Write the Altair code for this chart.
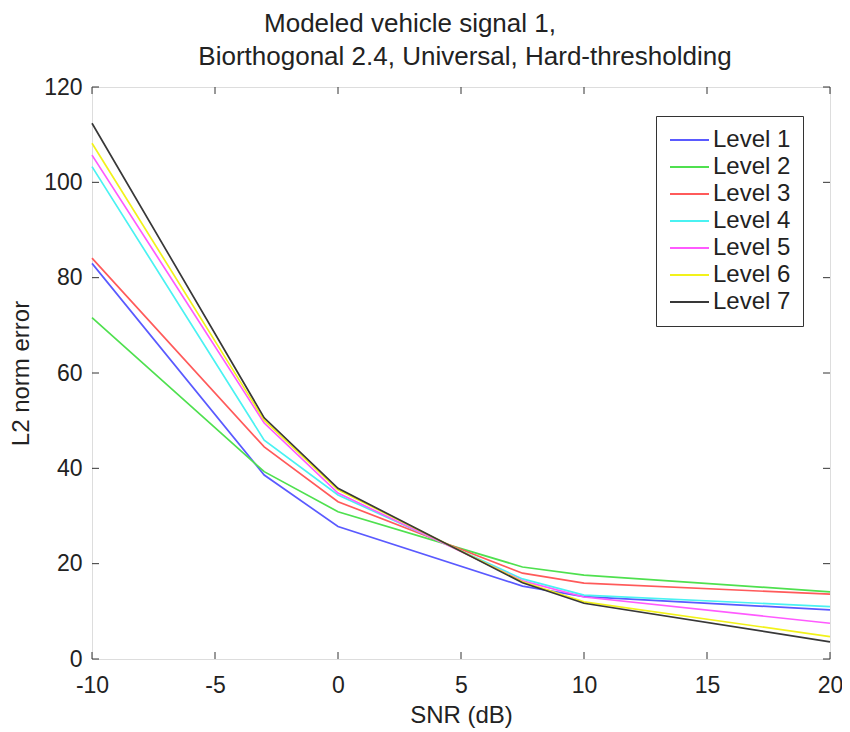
import altair as alt
import pandas as pd

snr = [-10, -3, 0, 7.5, 10, 20]
levels = ["Level 1", "Level 2", "Level 3", "Level 4", "Level 5", "Level 6", "Level 7"]
level1 = [83.0, 38.6, 27.8, 15.3, 13.1, 10.3]
level2 = [71.6, 39.3, 30.9, 19.3, 17.6, 14.1]
level3 = [84.1, 44.5, 33.0, 18.0, 15.9, 13.6]
level4 = [103.3, 45.9, 34.4, 16.8, 13.4, 11.0]
level5 = [105.7, 49.5, 34.8, 16.4, 13.0, 7.5]
level6 = [108.2, 50.1, 35.5, 16.2, 12.0, 4.7]
level7 = [112.4, 50.6, 35.8, 16.0, 11.7, 3.6]
colors = ["#5a5aff", "#4fe04f", "#ff5a5a", "#4af2f2", "#ff5aff", "#f2f21a", "#383838"]
x_ticks = [-10, -5, 0, 5, 10, 15, 20]
y_ticks = [0, 20, 40, 60, 80, 100, 120]
title1 = "Modeled vehicle signal 1,"
title2 = "Biorthogonal 2.4, Universal, Hard-thresholding"

series = [level1, level2, level3, level4, level5, level6, level7]
rows = []
for name, vals in zip(levels, series):
    for xv, yv in zip(snr, vals):
        rows.append({"SNR": xv, "err": yv, "level": name})
df = pd.DataFrame(rows)

FONT = "Liberation Sans"
W, H = 738, 572
LEFT = 84

xscale = alt.Scale(domain=[-10, 20], nice=False, zero=False)
yscale = alt.Scale(domain=[0, 120], nice=False)

lines = alt.Chart(df).mark_line(strokeWidth=1.7).encode(
    x=alt.X("SNR:Q", scale=xscale,
            axis=alt.Axis(values=x_ticks, title="SNR (dB)", grid=False, ticks=False,
                          domain=False, labelPadding=15, titlePadding=6, labelFlush=False,
                          labelExpr="replace(datum.label, '\u2212', '-')",
                          labelFontSize=23, titleFontSize=24, labelFont=FONT, titleFont=FONT,
                          labelColor="#222222", titleColor="#222222", titleFontWeight="normal")),
    y=alt.Y("err:Q", scale=yscale,
            axis=alt.Axis(values=y_ticks, title="L2 norm error", grid=False, ticks=False,
                          domain=False, labelPadding=10, titlePadding=10,
                          labelFontSize=23, titleFontSize=24, labelFont=FONT, titleFont=FONT,
                          labelColor="#222222", titleColor="#222222", titleFontWeight="normal")),
    color=alt.Color("level:N", scale=alt.Scale(domain=levels, range=colors),
                    legend=alt.Legend(title=None, orient="none", legendX=564, legendY=29,
                                      symbolType="M-1,0H2.9", symbolSize=400, symbolStrokeWidth=2,
                                      labelFontSize=24, labelFont=FONT, labelColor="#222222",
                                      labelOffset=21, rowPadding=3, padding=12,
                                      strokeColor="#333333", fillColor="white")),
    order=alt.Order("SNR:Q"),
)

xt = pd.DataFrame({"t": x_ticks})
yt = pd.DataFrame({"t": y_ticks})
tick_style = dict(color="#333333", strokeWidth=1)
xb = alt.Chart(xt).mark_rule(**tick_style).encode(x=alt.X("t:Q", scale=xscale), y=alt.value(H), y2=alt.value(H - 7))
xtp = alt.Chart(xt).mark_rule(**tick_style).encode(x=alt.X("t:Q", scale=xscale), y=alt.value(0), y2=alt.value(7))
yl = alt.Chart(yt).mark_rule(**tick_style).encode(y=alt.Y("t:Q", scale=yscale), x=alt.value(0), x2=alt.value(7))
yr = alt.Chart(yt).mark_rule(**tick_style).encode(y=alt.Y("t:Q", scale=yscale), x=alt.value(W), x2=alt.value(W - 7))

t1 = alt.Chart(pd.DataFrame({"s": [title1]})).mark_text(fontSize=26, font=FONT, color="#222222", align="center", baseline="middle").encode(
    text="s:N", x=alt.value(318), y=alt.value(-63))
t2 = alt.Chart(pd.DataFrame({"s": [title2]})).mark_text(fontSize=26, font=FONT, color="#222222", align="center", baseline="middle").encode(
    text="s:N", x=alt.value(373), y=alt.value(-30))

chart = alt.layer(lines, xb, xtp, yl, yr, t1, t2).properties(
    width=W, height=H,
    autosize=alt.AutoSizeParams(type="none"),
    padding={"left": LEFT, "top": 79, "right": 12, "bottom": 70},
).configure_view(stroke="#333333", strokeWidth=1.2).configure(background="white")

chart.save("out.html", embed_options={"renderer": "svg", "actions": False})
